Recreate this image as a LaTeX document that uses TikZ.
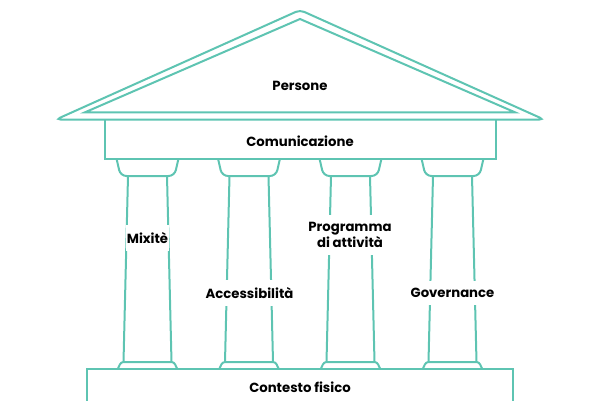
\documentclass[tikz,border=0pt]{standalone}
\usepackage{fontspec}
\setmainfont{Poppins}[BoldFont={Poppins Bold}]
\definecolor{templeteal}{RGB}{94,196,178}
\begin{document}
\begin{tikzpicture}[x=1bp,y=-1bp,
    outline/.style={draw=templeteal,line width=2bp},
    pillartext/.style={font=\bfseries\fontsize{13.3}{14}\selectfont,text=black,align=center,inner sep=0pt},
    pillargap/.style={pillartext,fill=white,inner xsep=1bp,inner ysep=7bp}]
    %%
    \useasboundingbox (0,0) rectangle (600,400);
    \draw [outline,rounded corners=4.5bp] (300,119.5) -- (56,119.5) -- (300,10) -- (544,119.5) -- cycle;
    \draw [outline] (300,19) -- (85,112.3) -- (515,112.3) -- cycle;
    \draw [outline] (105,119.5) -- (105,158.5) -- (495.5,158.5) -- (495.5,119.5);
    \draw [outline] (86.7,401) -- (86.7,368.5) -- (513,368.5) -- (513,401);
    \foreach \c in {147.5,249,350.5,452.5} {
        \draw [outline,rounded corners=6bp] (\c-31,158.5) -- (\c-27,176) -- (\c+27,176) -- (\c+31,158.5);
        \draw [outline] (\c-19.5,176) -- (\c-24,362);
        \draw [outline] (\c+19.5,176) -- (\c+24,362);
        \draw [outline,rounded corners=2.5bp] (\c-29.5,368.5) -- (\c-26.5,362) -- (\c+26.5,362) -- (\c+29.5,368.5);
    }
    \node (persone) at (300,86) [pillartext] {Persone};
    \node (comunicazione) at (300,141) [pillartext] {Comunicazione};
    \node (mixite) at (147.5,238) [pillargap] {Mixitè};
    \node (accessibilita) at (249.5,293) [pillargap] {Accessibilità};
    \node (programma) at (350,235) [pillargap] {Programma\\di attività};
    \node (governance) at (452.5,293) [pillargap] {Governance};
    \node (contesto) at (300,387) [pillartext] {Contesto fisico};
    %
\end{tikzpicture}
\end{document}
